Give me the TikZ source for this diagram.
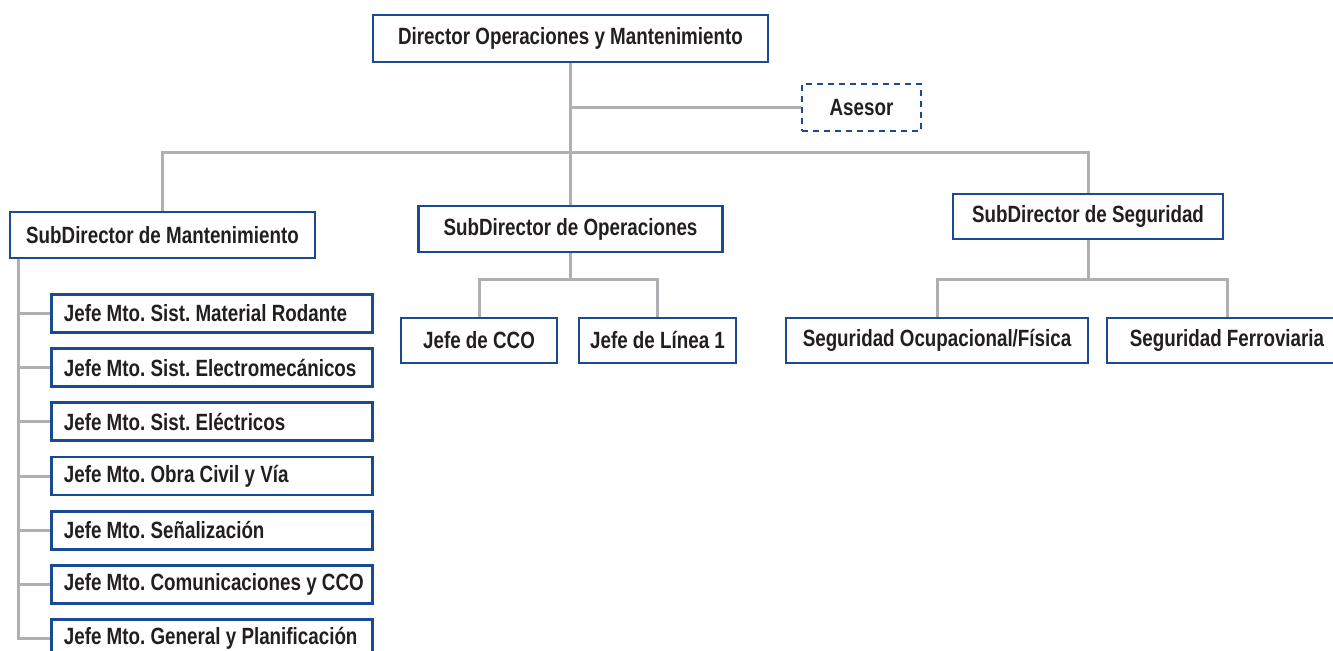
\documentclass[tikz,border=0pt]{standalone}
\usepackage{fontspec}
\setmainfont{Liberation Sans}[FakeStretch=0.8]
\definecolor{boxblue}{HTML}{1B4A94}
\definecolor{linegray}{HTML}{AEB0B3}
\definecolor{txt}{HTML}{231F20}
\newcommand{\jefe}[1]{\makebox[148pt][l]{#1}}
\tikzset{
  box/.style={draw=boxblue, line width=1.4pt, fill=white, text=txt,
    font=\fontsize{11.75}{13}\selectfont\bfseries\frenchspacing, minimum height=23.5pt, inner sep=0pt},
  kid/.style={box, minimum height=19pt, minimum width=160.5pt, anchor=west},
  advisor/.style={box, dash pattern=on 3pt off 2.5pt},
  link/.style={draw=linegray, line width=1.5pt}
}
\begin{document}
\begin{tikzpicture}[x=0.5pt,y=-0.5pt]
\useasboundingbox (0,0) rectangle (1333,651);
% top
\path (570.5,38.5) node[box, minimum width=197.5pt] (dir) {Director Operaciones y Mantenimiento};
\path (861.5,107.5) node[advisor, minimum width=59.5pt] (ases) {Asesor};
% subdirectores
\path (162.5,235) node[box, minimum width=152.5pt, minimum height=23pt] (mant) {SubDirector de Mantenimiento};
\path (570.5,229) node[box, minimum width=152pt, minimum height=23pt] (op) {SubDirector de Operaciones};
\path (1088,216.5) node[box, minimum width=135pt, minimum height=22.5pt] (seg) {SubDirector de Seguridad};
% operaciones
\path (479,340.5) node[box, minimum width=78pt, minimum height=22.5pt] (cco) {Jefe de CCO};
\path (657.5,340.5) node[box, minimum width=78.5pt, minimum height=22.5pt] (lin) {Jefe de Línea 1};
% seguridad
\path (937,340.5) node[box, minimum width=151pt, minimum height=22.5pt] (ocup) {Seguridad Ocupacional/Física};
\path (1227,340.5) node[box, minimum width=120pt, minimum height=22.5pt] (ferr) {Seguridad Ferroviaria};
% mantenimiento
\path (50,313.5) node[kid] (k1) {\jefe{Jefe Mto. Sist. Material Rodante}};
\path (50,367.7) node[kid] (k2) {\jefe{Jefe Mto. Sist. Electromecánicos}};
\path (50,421.9) node[kid] (k3) {\jefe{Jefe Mto. Sist. Eléctricos}};
\path (50,476.1) node[kid] (k4) {\jefe{Jefe Mto. Obra Civil y Vía}};
\path (50,530.3) node[kid] (k5) {\jefe{Jefe Mto. Señalización}};
\path (50,584.5) node[kid] (k6) {\jefe{Jefe Mto. Comunicaciones y CCO}};
\path (50,638.7) node[kid] (k7) {\jefe{Jefe Mto. General y Planificación}};
% connectors
\coordinate (bus) at (dir.south |- 0,153);
\coordinate (opbus) at (op.south |- 0,280);
\coordinate (segbus) at (seg.south |- 0,280);
\coordinate (trunk) at (mant.south -| 18,0);
\draw[link] (dir.south) -- (op.north);
\draw[link] (dir.south |- ases.west) -- (ases.west);
\draw[link] (mant.north) |- (bus) -| (seg.north);
\draw[link] (op.south) -- (opbus);
\draw[link] (cco.north) |- (opbus) -| (lin.north);
\draw[link] (seg.south) -- (segbus);
\draw[link] (ocup.north) |- (segbus) -| (ferr.north);
\draw[link] (trunk) |- (k7.west);
\draw[link] (trunk |- k1.west) -- (k1.west);
\draw[link] (trunk |- k2.west) -- (k2.west);
\draw[link] (trunk |- k3.west) -- (k3.west);
\draw[link] (trunk |- k4.west) -- (k4.west);
\draw[link] (trunk |- k5.west) -- (k5.west);
\draw[link] (trunk |- k6.west) -- (k6.west);
\end{tikzpicture}
\end{document}
